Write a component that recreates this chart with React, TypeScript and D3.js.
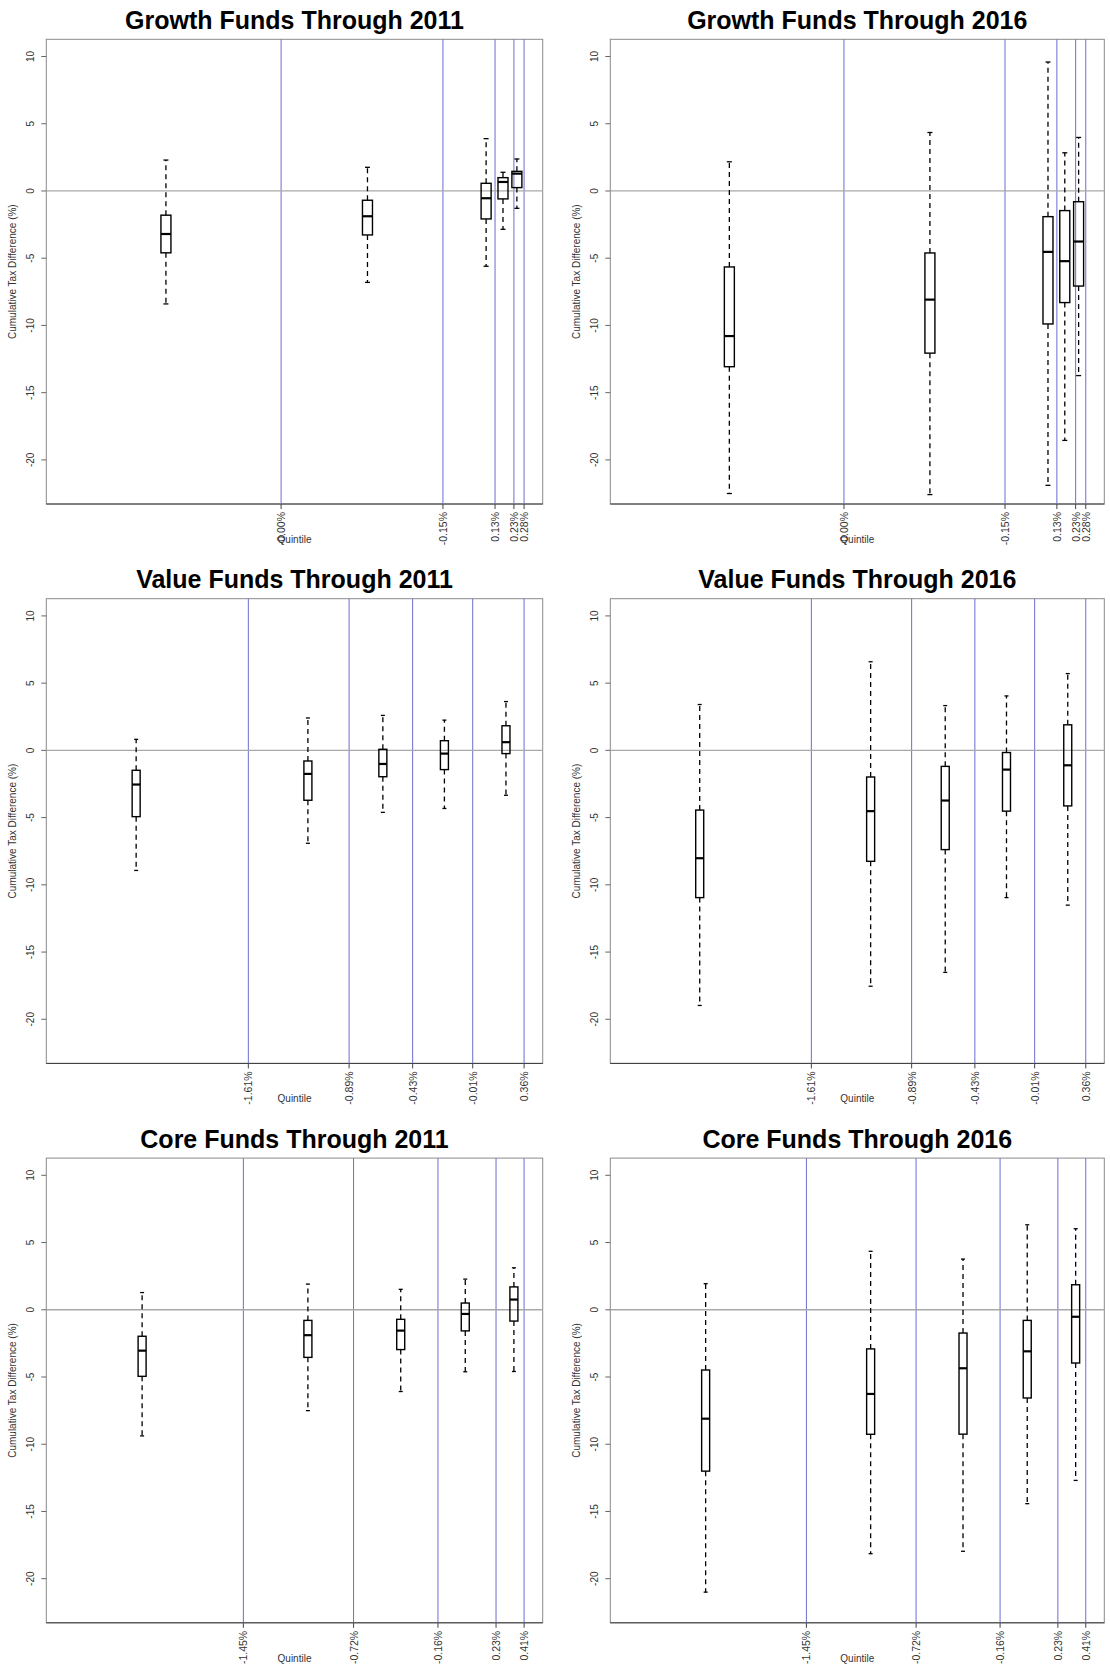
import React from "react";
import * as d3 from "d3";

// x positions are in percent of the axis width (0..100)
const growthCuts = [47.3, 79.9, 90.4, 94.2, 96.25];
const growthCutLabels = ["-0.00%", "-0.15%", "0.13%", "0.23%", "0.28%"];
const growthBoxX = [24.1, 64.7, 88.6, 92.0, 94.8];

const valueCuts = [40.7, 61.0, 73.8, 85.9, 96.25];
const valueCutLabels = ["-1.61%", "-0.89%", "-0.43%", "-0.01%", "0.36%"];
const valueBoxX = [18.1, 52.7, 67.8, 80.2, 92.6];

const coreCuts = [39.7, 61.9, 78.9, 90.6, 96.25];
const coreCutLabels = ["-1.45%", "-0.72%", "-0.16%", "0.23%", "0.41%"];
const coreBoxX = [19.3, 52.7, 71.4, 84.4, 94.2];

// box stats: [lower whisker, Q1, median, Q3, upper whisker]
const growth2011 = [
  [-8.4, -4.6, -3.2, -1.8, 2.3],
  [-6.8, -3.27, -1.88, -0.69, 1.76],
  [-5.6, -2.08, -0.54, 0.57, 3.89],
  [-2.85, -0.59, 0.67, 0.99, 1.39],
  [-1.29, 0.25, 1.29, 1.46, 2.38],
];
const growth2016 = [
  [-22.5, -13.07, -10.79, -5.65, 2.17],
  [-22.58, -12.06, -8.08, -4.61, 4.35],
  [-21.89, -9.89, -4.53, -1.91, 9.59],
  [-18.55, -8.3, -5.22, -1.46, 2.84],
  [-13.73, -7.07, -3.76, -0.8, 3.98],
];
const value2011 = [
  [-8.93, -4.93, -2.54, -1.48, 0.82],
  [-6.91, -3.71, -1.75, -0.79, 2.41],
  [-4.61, -1.96, -1.01, 0.08, 2.6],
  [-4.32, -1.43, -0.24, 0.72, 2.25],
  [-3.34, -0.24, 0.61, 1.83, 3.63],
];
const value2016 = [
  [-18.97, -10.95, -8.02, -4.44, 3.41],
  [-17.54, -8.25, -4.52, -1.98, 6.59],
  [-16.51, -7.38, -3.73, -1.19, 3.33],
  [-10.95, -4.52, -1.43, -0.16, 4.05],
  [-11.51, -4.13, -1.11, 1.9, 5.71],
];
const core2011 = [
  [-9.38, -4.95, -3.04, -1.97, 1.28],
  [-7.5, -3.54, -1.89, -0.79, 1.91],
  [-6.08, -2.96, -1.55, -0.71, 1.52],
  [-4.61, -1.57, -0.31, 0.5, 2.28],
  [-4.59, -0.84, 0.76, 1.7, 3.12],
];
const core2016 = [
  [-21.0, -12.0, -8.1, -4.48, 1.94],
  [-18.14, -9.26, -6.26, -2.91, 4.35],
  [-17.96, -9.25, -4.35, -1.73, 3.77],
  [-14.42, -6.56, -3.09, -0.79, 6.32],
  [-12.69, -3.96, -0.52, 1.86, 6.03],
];

const yTicks = [-20, -15, -10, -5, 0, 5, 10];
const yDomain = [-23.28, 11.28];

const panels = [
  { title: "Growth Funds Through 2011", row: 0, col: 0, cuts: growthCuts, labels: growthCutLabels, boxX: growthBoxX, stats: growth2011, boxW: 10 },
  { title: "Growth Funds Through 2016", row: 0, col: 1, cuts: growthCuts, labels: growthCutLabels, boxX: growthBoxX, stats: growth2016, boxW: 10 },
  { title: "Value Funds Through 2011", row: 1, col: 0, cuts: valueCuts, labels: valueCutLabels, boxX: valueBoxX, stats: value2011, boxW: 8 },
  { title: "Value Funds Through 2016", row: 1, col: 1, cuts: valueCuts, labels: valueCutLabels, boxX: valueBoxX, stats: value2016, boxW: 8 },
  { title: "Core Funds Through 2011", row: 2, col: 0, cuts: coreCuts, labels: coreCutLabels, boxX: coreBoxX, stats: core2011, boxW: 8 },
  { title: "Core Funds Through 2016", row: 2, col: 1, cuts: coreCuts, labels: coreCutLabels, boxX: coreBoxX, stats: core2016, boxW: 8 },
];

const W = 1110;
const H = 1673;
const rowStep = 559.4;
const colLeft = [46.3, 610.3];
const colRight = [542.7, 1104.3];
const font = "'Liberation Sans', Arial, Helvetica, sans-serif";
const blue = "#6c6cd0";

const Panel = ({ p }) => {
  const top = p.row * rowStep;
  const left = colLeft[p.col];
  const right = colRight[p.col];
  const plotTop = top + 39.3;
  const plotBottom = top + 504;

  const x = d3.scaleLinear().domain([0, 100]).range([left, right]);
  const y = d3.scaleLinear().domain(yDomain).range([plotBottom, plotTop]);
  const cx = (left + right) / 2;
  const cy = (plotTop + plotBottom) / 2;
  const hw = p.boxW / 2;

  return (
    <g>
      <text x={cx} y={top + 29} textAnchor="middle" fontSize={25} fontWeight="bold" fill="#000">
        {p.title}
      </text>

      {/* frame */}
      <rect x={left} y={plotTop} width={right - left} height={plotBottom - plotTop} fill="none" stroke="#8a8a8a" strokeWidth={1} />
      <line x1={left} x2={right} y1={plotBottom} y2={plotBottom} stroke="#3a3a3a" strokeWidth={1} />

      {/* quintile cut lines */}
      {p.cuts.map((c, i) => (
        <line key={"c" + i} x1={x(c)} x2={x(c)} y1={plotTop} y2={plotBottom} stroke={blue} strokeWidth={1} />
      ))}

      {/* zero line */}
      <line x1={left} x2={right} y1={y(0)} y2={y(0)} stroke="#a8a8a8" strokeWidth={1.3} />

      {/* y axis */}
      {yTicks.map((t) => (
        <g key={"y" + t}>
          <line x1={left - 5} x2={left} y1={y(t)} y2={y(t)} stroke="#666" strokeWidth={1} />
          <text
            transform={`translate(${left - 12},${y(t)}) rotate(-90)`}
            textAnchor="middle"
            fontSize={10}
            fill="#333"
          >
            {t}
          </text>
        </g>
      ))}
      <text transform={`translate(${left - 30.5},${cy}) rotate(-90)`} textAnchor="middle" fontSize={10} fill="#333">
        Cumulative Tax Difference (%)
      </text>

      {/* x axis */}
      {p.cuts.map((c, i) => (
        <g key={"x" + i}>
          <line x1={x(c)} x2={x(c)} y1={plotBottom} y2={plotBottom + 5} stroke="#444" strokeWidth={1} />
          <text
            transform={`translate(${x(c)},${plotBottom + 8}) rotate(-90)`}
            textAnchor="end"
            dominantBaseline="central"
            fontSize={10.5}
            fill="#333"
          >
            {p.labels[i]}
          </text>
        </g>
      ))}
      <text x={cx} y={top + 543} textAnchor="middle" fontSize={10} fill="#333">
        Quintile
      </text>

      {/* boxes */}
      {p.stats.map((s, i) => {
        const bx = x(p.boxX[i]);
        const [lo, q1, med, q3, hi] = s;
        return (
          <g key={"b" + i} stroke="#000" fill="none">
            <line x1={bx} x2={bx} y1={y(q1)} y2={y(lo)} strokeWidth={1.3} strokeDasharray="5,4" />
            <line x1={bx} x2={bx} y1={y(q3)} y2={y(hi)} strokeWidth={1.3} strokeDasharray="5,4" />
            <line x1={bx - hw / 2} x2={bx + hw / 2} y1={y(lo)} y2={y(lo)} strokeWidth={1.3} />
            <line x1={bx - hw / 2} x2={bx + hw / 2} y1={y(hi)} y2={y(hi)} strokeWidth={1.3} />
            <rect x={bx - hw} y={y(q3)} width={p.boxW} height={y(q1) - y(q3)} strokeWidth={1.4} />
            <line x1={bx - hw} x2={bx + hw} y1={y(med)} y2={y(med)} strokeWidth={2.2} />
          </g>
        );
      })}
    </g>
  );
};

export default function App() {
  return (
    <svg
      width={W}
      height={H}
      viewBox={`0 0 ${W} ${H}`}
      style={{ position: "absolute", left: 0, top: 0, background: "#fff" }}
      fontFamily={font}
    >
      <rect width={W} height={H} fill="#fff" />
      {panels.map((p) => (
        <Panel key={p.title} p={p} />
      ))}
    </svg>
  );
}
